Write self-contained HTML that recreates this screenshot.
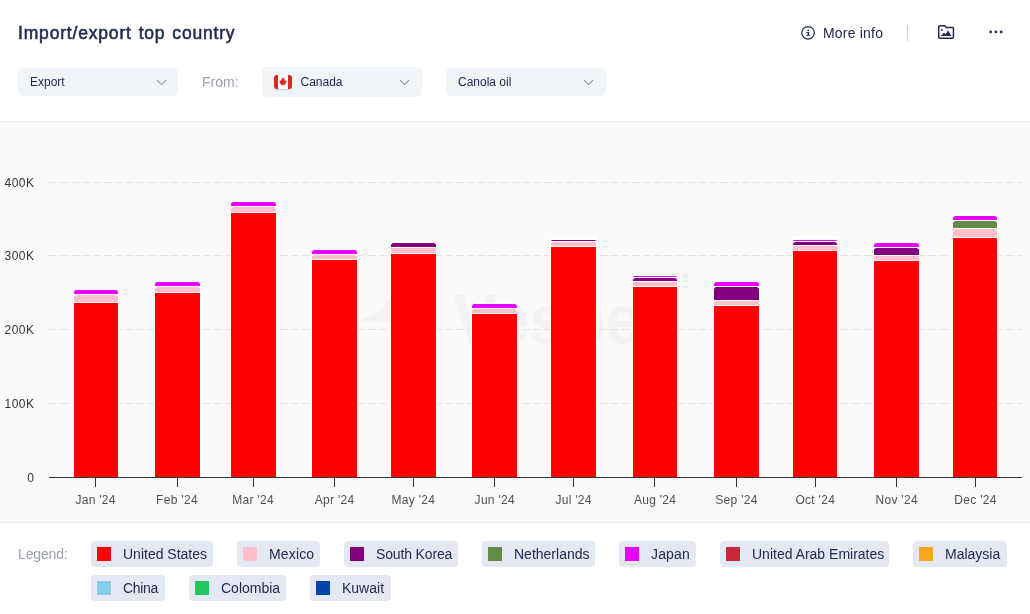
<!DOCTYPE html>
<html lang="en"><head><meta charset="utf-8"><title>Import/export top country</title>
<style>
html,body{margin:0;padding:0;background:#fff}
body{width:1030px;height:614px;position:relative;overflow:hidden;font-family:"Liberation Sans",sans-serif;color:#232a52}
.abs{position:absolute}
h1{position:absolute;left:18px;top:21px;margin:0;font-size:17.5px;line-height:24px;font-weight:400;color:#232a52;-webkit-text-stroke:0.55px #232a52;letter-spacing:0.82px;word-spacing:1.2px;white-space:nowrap}
.sel{position:absolute;background:#f1f4f9;border-radius:5px;font-size:12px;color:#232a52;box-sizing:border-box}
.sel span{position:absolute;top:50%;transform:translateY(-50%);white-space:nowrap}
.sel svg{position:absolute;right:12px;top:50%;margin-top:-3.1px}
.from{position:absolute;left:202px;top:73px;font-size:14px;line-height:18px;color:#9b9fb3}

.more{letter-spacing:0.2px;position:absolute;left:823px;top:24px;font-size:14px;line-height:18px;color:#232a52;white-space:nowrap}
.sep{position:absolute;left:907px;top:25px;width:1px;height:16px;background:#c9cedc}
.chartbg{position:absolute;left:0;top:121px;width:1030px;height:402px;background:#fafaf9;border-top:1px solid #e6e9f0;border-bottom:1px solid #e6e9f0;box-sizing:border-box}
svg.chart{position:absolute;left:0;top:122px}
.yl{font-family:"Liberation Sans",sans-serif;font-size:12px;fill:#333;letter-spacing:0.45px}
.xl{font-family:"Liberation Sans",sans-serif;font-size:12px;fill:#505050;letter-spacing:0.3px}
.legend{position:absolute;left:18px;top:545px;font-size:14px;line-height:18px;color:#9b9fb3;letter-spacing:-0.15px}
.chip{position:absolute;height:26px;background:#e3e8f3;border-radius:4px;box-sizing:border-box;font-size:14px;color:#232a52;white-space:nowrap}
.chip i{position:absolute;left:6px;top:6px;width:14px;height:14px}
.chip span{position:absolute;left:32px;top:4px;line-height:18px}
</style></head><body>
<h1>Import/export top country</h1>
<svg class="abs" style="left:800px;top:25px" width="16" height="16" viewBox="0 0 16 16"><circle cx="8.050" cy="7.850" r="6.300" fill="none" stroke="#232a52" stroke-width="1.250"/><circle cx="8.150" cy="5.350" r="0.900" fill="#232a52"/><path d="M6.200 6.900h2.900v3.300h0.800v0.900h-3.800v-0.900h1.400v-2.400h-1.300z" fill="#232a52"/></svg>
<div class="more">More info</div>
<div class="sep"></div>
<svg class="abs" style="left:937px;top:24px" width="18" height="16" viewBox="0 0 18 16"><path d="M1.75 2.7a1 1 0 0 1 1-1h4.9l2.1 1.9h5.7a1 1 0 0 1 1 1v8.6a1 1 0 0 1-1 1H2.75a1 1 0 0 1-1-1z" fill="none" stroke="#232a52" stroke-width="1.5" stroke-linejoin="round"/><path d="M3.7 12.1L7 8.4l1.7 1.9L11 6.300l3.400 5.800z" fill="#232a52"/><circle cx="4.900" cy="6" r="0.95" fill="#232a52"/></svg>
<svg class="abs" style="left:988px;top:29px" width="16" height="6" viewBox="0 0 16 6"><circle cx="2.6" cy="2.9" r="1.35" fill="#232a52"/><circle cx="7.9" cy="2.9" r="1.35" fill="#232a52"/><circle cx="13.2" cy="2.9" r="1.35" fill="#232a52"/></svg>

<div class="sel" style="left:18px;top:68px;width:160px;height:28px"><span style="left:12px">Export</span><svg style="right:11.5px" width="11" height="7" viewBox="0 0 11 7"><path d="M1 1.200L5.500 5.600L10 1.200" fill="none" stroke="#8d92a8" stroke-width="1.05"/></svg></div>
<div class="from">From:</div>
<div class="sel" style="left:262px;top:67px;width:160px;height:30px"><svg style="left:12px;right:auto;margin-top:-7px;border-radius:2px;box-shadow:0 1px 1.5px rgba(30,40,80,.18)" width="18" height="14" viewBox="0 0 18 14"><defs><clipPath id="fc"><rect width="18" height="14" rx="2"/></clipPath></defs><g clip-path="url(#fc)"><rect width="18" height="14" fill="#fff"/><rect width="4" height="14" fill="#d52b1e"/><rect x="14" width="4" height="14" fill="#d52b1e"/><path d="M9 2.6l.9 1.7.9-.3-.4 2.2 1-.9.3.7 1.2-.2-.5 1.5.5.3-2 1.6.2.8-1.9-.3v1.7h-.4V9.700l-1.900.3.200-.8-2-1.600.500-.300-.500-1.500 1.200.2.300-.7 1 .9-.4-2.200.9.300z" fill="#d52b1e" transform="translate(9 7) scale(0.92 1.08) translate(-9 -7.2)"/></g></svg><span style="left:38.5px">Canada</span><svg style="right:12.2px" width="11" height="7" viewBox="0 0 11 7"><path d="M1 1.200L5.500 5.600L10 1.200" fill="none" stroke="#8d92a8" stroke-width="1.05"/></svg></div>
<div class="sel" style="left:446px;top:68px;width:160px;height:28px"><span style="left:12px">Canola oil</span><svg style="right:12px" width="11" height="7" viewBox="0 0 11 7"><path d="M1 1.200L5.500 5.600L10 1.200" fill="none" stroke="#8d92a8" stroke-width="1.05"/></svg></div>

<div class="chartbg"></div>
<svg class="chart" width="1030" height="400" viewBox="0 122 1030 400">
<g fill="#f3f3f1"><path d="M357 321.5 L372 315.5 Q386 309 390 297 L436 297 L436 321.5 Z"/><text x="453" y="344" font-family="Liberation Sans, sans-serif" font-weight="700" font-size="71" textLength="214" lengthAdjust="spacingAndGlyphs">Vesper</text></g>
<line x1="49" x2="1022" y1="182.5" y2="182.5" stroke="#e4e4e2" stroke-width="1" stroke-dasharray="8 3"/>
<line x1="49" x2="1022" y1="255.5" y2="255.5" stroke="#e4e4e2" stroke-width="1" stroke-dasharray="8 3"/>
<line x1="49" x2="1022" y1="329.5" y2="329.5" stroke="#e4e4e2" stroke-width="1" stroke-dasharray="8 3"/>
<line x1="49" x2="1022" y1="403.5" y2="403.5" stroke="#e4e4e2" stroke-width="1" stroke-dasharray="8 3"/>
<text x="34.45" y="186.8" text-anchor="end" class="yl">400K</text>
<text x="34.45" y="259.8" text-anchor="end" class="yl">300K</text>
<text x="34.45" y="333.8" text-anchor="end" class="yl">200K</text>
<text x="34.45" y="407.8" text-anchor="end" class="yl">100K</text>
<text x="34.45" y="481.8" text-anchor="end" class="yl">0</text>
<path d="M73.5 477.5V302.5H118.5V477.5Z" fill="#ff0000" stroke="#fff" stroke-width="1"/>
<path d="M73.5 302.5V297.5Q73.5 294.5 76.5 294.5H115.5Q118.5 294.5 118.5 297.5V302.5Z" fill="#ffc0cb" stroke="#fff" stroke-width="1"/>
<path d="M73.5 294.5V292.5Q73.5 289.5 76.5 289.5H115.5Q118.5 289.5 118.5 292.5V294.5Z" fill="#e800ff" stroke="#fff" stroke-width="1"/>
<path d="M154.5 477.5V292.5H200.5V477.5Z" fill="#ff0000" stroke="#fff" stroke-width="1"/>
<path d="M154.5 292.5V289.5Q154.5 286.5 157.5 286.5H197.5Q200.5 286.5 200.5 289.5V292.5Z" fill="#ffc0cb" stroke="#fff" stroke-width="1"/>
<path d="M154.5 286.5V284.5Q154.5 281.5 157.5 281.5H197.5Q200.5 281.5 200.5 284.5V286.5Z" fill="#e800ff" stroke="#fff" stroke-width="1"/>
<path d="M230.5 477.5V212.5H276.5V477.5Z" fill="#ff0000" stroke="#fff" stroke-width="1"/>
<path d="M230.5 212.5V209.5Q230.5 206.5 233.5 206.5H273.5Q276.5 206.5 276.5 209.5V212.5Z" fill="#ffc0cb" stroke="#fff" stroke-width="1"/>
<path d="M230.5 206.5V204.5Q230.5 201.5 233.5 201.5H273.5Q276.5 201.5 276.5 204.5V206.5Z" fill="#e800ff" stroke="#fff" stroke-width="1"/>
<path d="M311.5 477.5V259.5H357.5V477.5Z" fill="#ff0000" stroke="#fff" stroke-width="1"/>
<path d="M311.5 259.5V257.5Q311.5 254.5 314.5 254.5H354.5Q357.5 254.5 357.5 257.5V259.5Z" fill="#ffc0cb" stroke="#fff" stroke-width="1"/>
<path d="M311.5 254.5V252.5Q311.5 249.5 314.5 249.5H354.5Q357.5 249.5 357.5 252.5V254.5Z" fill="#e800ff" stroke="#fff" stroke-width="1"/>
<path d="M390.5 477.5V253.5H436.5V477.5Z" fill="#ff0000" stroke="#fff" stroke-width="1"/>
<path d="M390.5 253.5V247.5H436.5V253.5Z" fill="#ffc0cb" stroke="#fff" stroke-width="1"/>
<path d="M390.5 247.5V245.5Q390.5 242.5 393.5 242.5H433.5Q436.5 242.5 436.5 245.5V247.5Z" fill="#800080" stroke="#fff" stroke-width="1"/>
<path d="M471.5 477.5V313.5H517.5V477.5Z" fill="#ff0000" stroke="#fff" stroke-width="1"/>
<path d="M471.5 313.5V311.5Q471.5 308.5 474.5 308.5H514.5Q517.5 308.5 517.5 311.5V313.5Z" fill="#ffc0cb" stroke="#fff" stroke-width="1"/>
<path d="M471.5 308.5V306.5Q471.5 303.5 474.5 303.5H514.5Q517.5 303.5 517.5 306.5V308.5Z" fill="#e800ff" stroke="#fff" stroke-width="1"/>
<path d="M550.5 477.5V246.5H596.5V477.5Z" fill="#ff0000" stroke="#fff" stroke-width="1"/>
<path d="M550.5 246.5V244.5Q550.5 241.5 553.5 241.5H593.5Q596.5 241.5 596.5 244.5V246.5Z" fill="#ffc0cb" stroke="#fff" stroke-width="1"/>
<path d="M550.5 241.5V241.5Q550.5 239.4 552.6 239.4H594.4Q596.5 239.4 596.5 241.5V241.5Z" fill="#800080" stroke="#fff" stroke-width="1"/>
<path d="M550.5 239.4V239.4Q550.5 237.6 552.3 237.6H594.7Q596.5 237.6 596.5 239.4V239.4Z" fill="#ffffff" stroke="#fff" stroke-width="1"/>
<path d="M632.5 477.5V286.5H677.5V477.5Z" fill="#ff0000" stroke="#fff" stroke-width="1"/>
<path d="M632.5 286.5V281.5H677.5V286.5Z" fill="#ffc0cb" stroke="#fff" stroke-width="1"/>
<path d="M632.5 281.5V280.5Q632.5 277.5 635.5 277.5H674.5Q677.5 277.5 677.5 280.5V281.5Z" fill="#800080" stroke="#fff" stroke-width="1"/>
<path d="M632.5 277.5V277.5Q632.5 275.2 634.8 275.2H675.2Q677.5 275.2 677.5 277.5V277.5Z" fill="#e800ff" stroke="#fff" stroke-width="1"/>
<path d="M632.5 275.2V275.2Q632.5 273.7 634.0 273.7H676.0Q677.5 273.7 677.5 275.2V275.2Z" fill="#ffffff" stroke="#fff" stroke-width="1"/>
<path d="M713.5 477.5V305.5H759.5V477.5Z" fill="#ff0000" stroke="#fff" stroke-width="1"/>
<path d="M713.5 305.5V300.5H759.5V305.5Z" fill="#ffc0cb" stroke="#fff" stroke-width="1"/>
<path d="M713.5 300.5V289.5Q713.5 286.5 716.5 286.5H756.5Q759.5 286.5 759.5 289.5V300.5Z" fill="#800080" stroke="#fff" stroke-width="1"/>
<path d="M713.5 286.5V284.5Q713.5 281.5 716.5 281.5H756.5Q759.5 281.5 759.5 284.5V286.5Z" fill="#e800ff" stroke="#fff" stroke-width="1"/>
<path d="M792.5 477.5V250.5H837.5V477.5Z" fill="#ff0000" stroke="#fff" stroke-width="1"/>
<path d="M792.5 250.5V245.5H837.5V250.5Z" fill="#ffc0cb" stroke="#fff" stroke-width="1"/>
<path d="M792.5 245.5V244.5Q792.5 241.5 795.5 241.5H834.5Q837.5 241.5 837.5 244.5V245.5Z" fill="#800080" stroke="#fff" stroke-width="1"/>
<path d="M792.5 241.5V241.5Q792.5 239.2 794.8 239.2H835.2Q837.5 239.2 837.5 241.5V241.5Z" fill="#e800ff" stroke="#fff" stroke-width="1"/>
<path d="M792.5 239.2V239.2Q792.5 236.7 795.0 236.7H835.0Q837.5 236.7 837.5 239.2V239.2Z" fill="#ffffff" stroke="#fff" stroke-width="1"/>
<path d="M873.5 477.5V260.5H919.5V477.5Z" fill="#ff0000" stroke="#fff" stroke-width="1"/>
<path d="M873.5 260.5V255.5H919.5V260.5Z" fill="#ffc0cb" stroke="#fff" stroke-width="1"/>
<path d="M873.5 255.5V250.5Q873.5 247.5 876.5 247.5H916.5Q919.5 247.5 919.5 250.5V255.5Z" fill="#800080" stroke="#fff" stroke-width="1"/>
<path d="M873.5 247.5V245.5Q873.5 242.5 876.5 242.5H916.5Q919.5 242.5 919.5 245.5V247.5Z" fill="#e800ff" stroke="#fff" stroke-width="1"/>
<path d="M873.5 242.5V242.5Q873.5 240.5 875.5 240.5H917.5Q919.5 240.5 919.5 242.5V242.5Z" fill="#ffffff" stroke="#fff" stroke-width="1"/>
<path d="M952.5 477.5V237.5H997.5V477.5Z" fill="#ff0000" stroke="#fff" stroke-width="1"/>
<path d="M952.5 237.5V228.5H997.5V237.5Z" fill="#ffc0cb" stroke="#fff" stroke-width="1"/>
<path d="M952.5 228.5V223.5Q952.5 220.5 955.5 220.5H994.5Q997.5 220.5 997.5 223.5V228.5Z" fill="#628b46" stroke="#fff" stroke-width="1"/>
<path d="M952.5 220.5V218.5Q952.5 215.5 955.5 215.5H994.5Q997.5 215.5 997.5 218.5V220.5Z" fill="#e800ff" stroke="#fff" stroke-width="1"/>
<line x1="49" x2="1022" y1="477.5" y2="477.5" stroke="#333" stroke-width="1"/>
<line x1="95.5" x2="95.5" y1="478" y2="487" stroke="#333" stroke-width="1"/>
<text x="95.6" y="504" text-anchor="middle" class="xl">Jan '24</text>
<line x1="177.5" x2="177.5" y1="478" y2="487" stroke="#333" stroke-width="1"/>
<text x="177.0" y="504" text-anchor="middle" class="xl">Feb '24</text>
<line x1="253.5" x2="253.5" y1="478" y2="487" stroke="#333" stroke-width="1"/>
<text x="253.2" y="504" text-anchor="middle" class="xl">Mar '24</text>
<line x1="334.5" x2="334.5" y1="478" y2="487" stroke="#333" stroke-width="1"/>
<text x="334.6" y="504" text-anchor="middle" class="xl">Apr '24</text>
<line x1="413.5" x2="413.5" y1="478" y2="487" stroke="#333" stroke-width="1"/>
<text x="413.4" y="504" text-anchor="middle" class="xl">May '24</text>
<line x1="494.5" x2="494.5" y1="478" y2="487" stroke="#333" stroke-width="1"/>
<text x="494.8" y="504" text-anchor="middle" class="xl">Jun '24</text>
<line x1="573.5" x2="573.5" y1="478" y2="487" stroke="#333" stroke-width="1"/>
<text x="573.6" y="504" text-anchor="middle" class="xl">Jul '24</text>
<line x1="654.5" x2="654.5" y1="478" y2="487" stroke="#333" stroke-width="1"/>
<text x="655.1" y="504" text-anchor="middle" class="xl">Aug '24</text>
<line x1="736.5" x2="736.5" y1="478" y2="487" stroke="#333" stroke-width="1"/>
<text x="736.5" y="504" text-anchor="middle" class="xl">Sep '24</text>
<line x1="815.5" x2="815.5" y1="478" y2="487" stroke="#333" stroke-width="1"/>
<text x="815.3" y="504" text-anchor="middle" class="xl">Oct '24</text>
<line x1="896.5" x2="896.5" y1="478" y2="487" stroke="#333" stroke-width="1"/>
<text x="896.7" y="504" text-anchor="middle" class="xl">Nov '24</text>
<line x1="975.5" x2="975.5" y1="478" y2="487" stroke="#333" stroke-width="1"/>
<text x="975.5" y="504" text-anchor="middle" class="xl">Dec '24</text>
</svg>
<div class="legend">Legend:</div>
<div class="chip" style="left:91px;top:541px;width:122px"><i style="background:#ff0000"></i><span>United States</span></div>
<div class="chip" style="left:237px;top:541px;width:83px"><i style="background:#ffc0cb"></i><span style="letter-spacing:0.15px">Mexico</span></div>
<div class="chip" style="left:344px;top:541px;width:114px"><i style="background:#800080"></i><span style="letter-spacing:-0.15px">South Korea</span></div>
<div class="chip" style="left:482px;top:541px;width:113px"><i style="background:#628b46"></i><span>Netherlands</span></div>
<div class="chip" style="left:619px;top:541px;width:77px"><i style="background:#e800ff"></i><span style="letter-spacing:0.15px">Japan</span></div>
<div class="chip" style="left:720px;top:541px;width:169px"><i style="background:#c9283a"></i><span>United Arab Emirates</span></div>
<div class="chip" style="left:913px;top:541px;width:94px"><i style="background:#f5a623"></i><span>Malaysia</span></div>
<div class="chip" style="left:91px;top:575px;width:74px"><i style="background:#87ceeb"></i><span style="letter-spacing:-0.3px">China</span></div>
<div class="chip" style="left:189px;top:575px;width:97px"><i style="background:#22c55e"></i><span>Colombia</span></div>
<div class="chip" style="left:310px;top:575px;width:81px"><i style="background:#0645a8"></i><span>Kuwait</span></div>
</body></html>
